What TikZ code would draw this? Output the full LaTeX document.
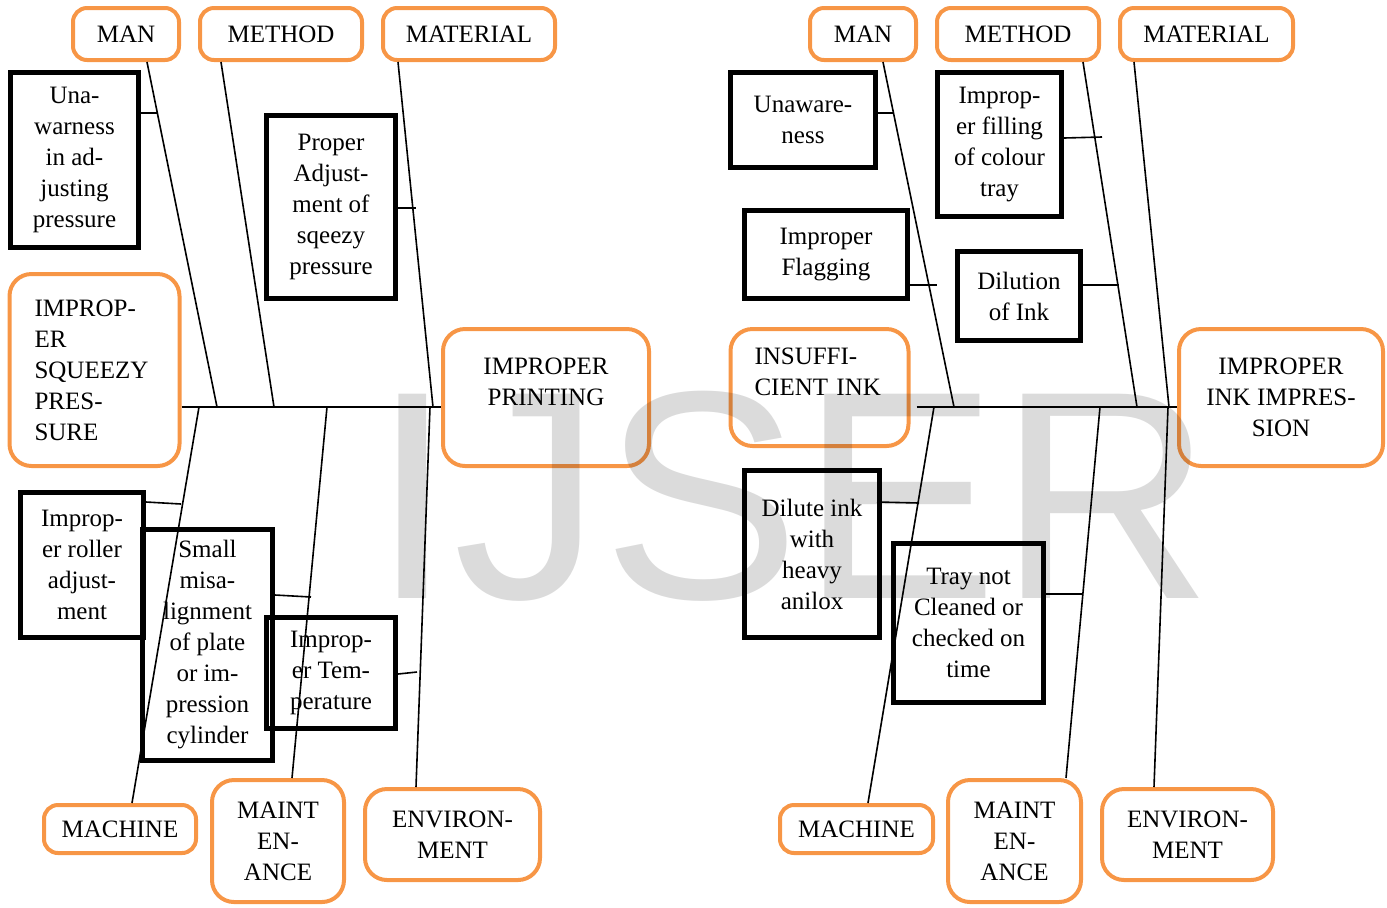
\documentclass[tikz,border=0pt]{standalone}
\usepackage{fontspec}
\setmainfont{Liberation Serif}
\setsansfont{Liberation Sans}
\usepackage{xcolor}
\definecolor{fishorange}{HTML}{F79646}

\begin{document}
\begin{tikzpicture}[x=0.5pt,y=-0.5pt]
        \tikzset{
        every node/.style={font=\fontsize{12.5}{15.5}\selectfont},
        fb cat/.style={draw=fishorange,line width=2pt,rounded corners=7pt,align=center,inner sep=0},
        fb big/.style={fb cat,rounded corners=11pt},
        fb cause/.style={draw,line width=2.3pt,align=center,inner sep=0},
        fb bone/.style={line width=0.8pt}
        }
        \useasboundingbox (0,0) rectangle (1387,907);

        % left fishbone
        \node[fb cat,minimum width=53pt,minimum height=26pt] (manL) at (126,34) {MAN};
        \node[fb cat,minimum width=81pt,minimum height=26pt] (methodL) at (281,34) {METHOD};
        \node[fb cat,minimum width=86pt,minimum height=26pt] (materialL) at (469,34) {MATERIAL};
        \node[fb big,align=left,text width=60pt,inner xsep=12.5pt,minimum height=96pt] (sqzL) at (94.5,370) {IMPROP-\\ER\\SQUEEZY\\PRES-\\SURE};
        \node[fb big,minimum width=103pt,minimum height=68.5pt] (printL) at (546,397.5) {IMPROPER\\PRINTING\\\mbox{}};
        \node[fb cat,minimum width=76pt,minimum height=24pt] (machL) at (120,829) {MACHINE};
        \node[fb big,minimum width=66pt,minimum height=61pt] (maintL) at (278,841) {MAINT\\EN-\\ANCE};
        \node[fb big,minimum width=87.5pt,minimum height=45.5pt] (envL) at (452.5,834.5) {ENVIRON-\\MENT};

        \node[fb cause,minimum width=64pt,minimum height=87.7pt] (unawL) at (74.5,160) {Una-\\warness\\in ad-\\justing\\pressure};
        \node[fb cause,minimum width=64.7pt,minimum height=91.7pt] (propL) at (331,207) {Proper\\Adjust-\\ment of\\sqeezy\\pressure};
        \node[fb cause,minimum width=61.7pt,minimum height=72.7pt] (rollL) at (82,565) {Improp-\\er roller\\adjust-\\ment};
        \node[fb cause,minimum width=65.2pt,minimum height=115.7pt] (smallL) at (207.5,645) {Small\\misa-\\lignment\\of plate\\or im-\\pression\\cylinder};
        \node[fb cause,minimum width=64.7pt,minimum height=55.7pt] (tempL) at (331,673) {Improp-\\er Tem-\\perature};

        \coordinate (spL) at (0,407);
        \coordinate (jManL) at (217,407);
        \coordinate (jMethodL) at (274,407);
        \coordinate (jMaterialL) at (433,407);
        \coordinate (jMachL) at (199,407);
        \coordinate (jMaintL) at (327,407);
        \coordinate (jEnvL) at (430,407);
        \coordinate (tUnawL) at (158,113);
        \coordinate (tPropL) at (416,208);
        \coordinate (tRollL) at (181,504);
        \coordinate (tSmallL) at (311,597);
        \coordinate (tTempL) at (417,672);

        \draw[line width=1pt] (spL -| sqzL.east) -- (spL -| printL.west);
        \path[-,draw,fb bone]
        ([xshift=10.5pt]manL.south) edge (jManL)
        ([xshift=-30pt]methodL.south) edge (jMethodL)
        ([xshift=-35.5pt]materialL.south) edge (jMaterialL)
        (jMachL) edge ([xshift=6pt]machL.north)
        (jMaintL) edge ([xshift=7pt]maintL.north)
        (jEnvL) edge ([xshift=-18.25pt]envL.north)
        ([yshift=23.5pt]unawL.east) edge (tUnawL)
        ([yshift=-0.5pt]propL.east) edge (tPropL)
        ([yshift=31.5pt]rollL.east) edge (tRollL)
        ([yshift=25pt]smallL.east) edge (tSmallL)
        ([yshift=-0.5pt]tempL.east) edge (tTempL)
        ;

        % right fishbone
        \node[fb cat,minimum width=53pt,minimum height=26pt] (manR) at (863,34) {MAN};
        \node[fb cat,minimum width=81pt,minimum height=26pt] (methodR) at (1018,34) {METHOD};
        \node[fb cat,minimum width=86.5pt,minimum height=26pt] (materialR) at (1206.5,34) {MATERIAL};
        \node[fb big,align=left,text width=65pt,inner xsep=12pt,minimum height=58.5pt] (insufR) at (819.5,387.5) {INSUFFI-\\CIENT INK\\\mbox{}};
        \node[fb big,minimum width=102pt,minimum height=68.5pt] (impR) at (1281,397.5) {IMPROPER\\INK IMPRES-\\SION};
        \node[fb cat,minimum width=76.5pt,minimum height=24pt] (machR) at (856.5,829) {MACHINE};
        \node[fb big,minimum width=66.5pt,minimum height=61pt] (maintR) at (1014.5,841) {MAINT\\EN-\\ANCE};
        \node[fb big,minimum width=85.5pt,minimum height=45.5pt] (envR) at (1187.5,834.5) {ENVIRON-\\MENT};

        \node[fb cause,minimum width=72.7pt,minimum height=47.7pt] (unawR) at (803,120) {Unaware-\\ness};
        \node[fb cause,minimum width=62.2pt,minimum height=72.2pt] (fillR) at (999.5,144.5) {Improp-\\er filling\\of colour\\tray};
        \node[fb cause,minimum width=81.7pt,minimum height=44.2pt] (flagR) at (826,254.5) {Improper\\Flagging};
        \node[fb cause,minimum width=61.7pt,minimum height=44.7pt] (dilR) at (1019,296) {Dilution\\of Ink};
        \node[fb cause,minimum width=67.7pt,minimum height=83.7pt] (dilinkR) at (812,554) {Dilute ink\\with\\heavy\\anilox};
        \node[fb cause,minimum width=75.2pt,minimum height=79.7pt] (trayR) at (968.5,623) {Tray not\\Cleaned or\\checked on\\time};

        \coordinate (spR) at (0,407);
        \coordinate (jManR) at (954,407);
        \coordinate (jMethodR) at (1137,407);
        \coordinate (jMaterialR) at (1169,407);
        \coordinate (jMachR) at (934,407);
        \coordinate (jMaintR) at (1100,407);
        \coordinate (jEnvR) at (1168,407);
        \coordinate (tUnawR) at (893,113);
        \coordinate (tFillR) at (1102,137);
        \coordinate (tFlagR) at (937,285);
        \coordinate (tDilR) at (1119,285);
        \coordinate (tDilinkR) at (919,503);
        \coordinate (tTrayR) at (1083,594);

        \draw[line width=1pt] ([xshift=3pt]spR -| insufR.east) -- (spR -| impR.west);
        \path[-,draw,fb bone]
        ([xshift=10pt]manR.south) edge (jManR)
        ([xshift=32.5pt]methodR.south) edge (jMethodR)
        ([xshift=-36.25pt]materialR.south) edge (jMaterialR)
        (jMachR) edge ([xshift=5.75pt]machR.north)
        (jMaintR) edge ([xshift=25.75pt]maintR.north)
        (jEnvR) edge ([xshift=-16.75pt]envR.north)
        ([yshift=3.5pt]unawR.east) edge (tUnawR)
        ([yshift=3.25pt]fillR.east) edge (tFillR)
        ([yshift=-15.25pt]flagR.east) edge (tFlagR)
        ([yshift=5.5pt]dilR.east) edge (tDilR)
        ([xshift=-2.5pt,yshift=26pt]dilinkR.east) edge (tDilinkR)
        ([yshift=14.5pt]trayR.east) edge (tTrayR)
        ;

        % watermark
        \node[anchor=base west,inner sep=0,outer sep=0,text=black,text opacity=0.14,
              font=\sffamily\fontsize{148.5}{150}\selectfont] (wm) at (371,598) {IJSER};
    \end{tikzpicture}
\end{document}
